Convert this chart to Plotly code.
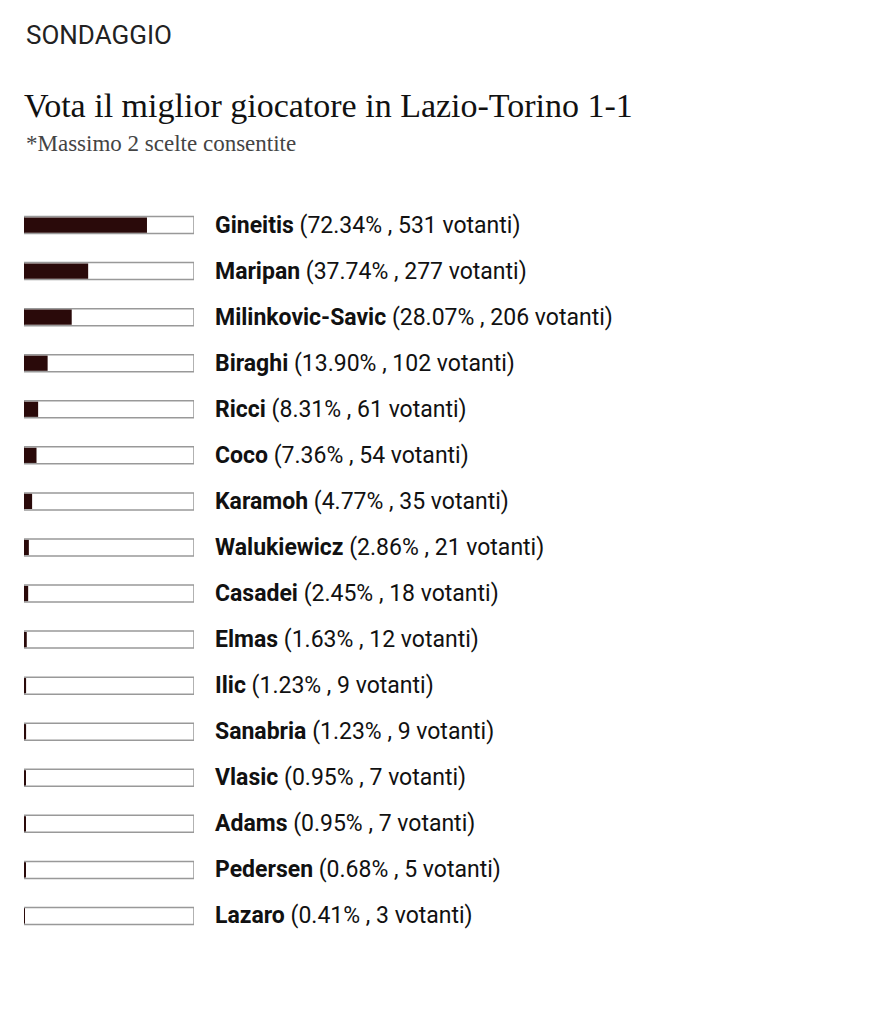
import plotly.graph_objects as go

names = ["Gineitis","Maripan","Milinkovic-Savic","Biraghi","Ricci","Coco","Karamoh","Walukiewicz",
         "Casadei","Elmas","Ilic","Sanabria","Vlasic","Adams","Pedersen","Lazaro"]
pcts = [72.34,37.74,28.07,13.90,8.31,7.36,4.77,2.86,2.45,1.63,1.23,1.23,0.95,0.95,0.68,0.41]
votes = [531,277,206,102,61,54,35,21,18,12,9,9,7,7,5,3]

W, H = 889, 1024
O = 8  # page body margin offset
fig = go.Figure()
fig.add_bar(x=[100]*len(names), y=names, orientation="h", width=0.37,
            marker=dict(color="white", line=dict(color="#999999", width=1.5)), hoverinfo="skip")
fig.add_bar(x=pcts, y=names, orientation="h", width=0.33,
            marker=dict(color="#2a0a0a", line=dict(width=0)))
for n, p, v in zip(names, pcts, votes):
    fig.add_annotation(x=(213-O)/W, xref="paper", y=n, yref="y", xanchor="left", showarrow=False,
                       text=f"<b>{n}</b> ({p:.2f}% , {v} votanti)",
                       font=dict(family="Roboto", size=23, color="#111111"))
fig.add_annotation(x=(24-O)/W, y=1-(35-O)/H, xref="paper", yref="paper", xanchor="left", yanchor="middle",
                   showarrow=False, text="SONDAGGIO", font=dict(family="Roboto", size=26, color="#222"))
fig.add_annotation(x=(22-O)/W, y=1-(105-O)/H, xref="paper", yref="paper", xanchor="left", yanchor="middle",
                   showarrow=False, text="Vota il miglior giocatore in Lazio-Torino 1-1",
                   font=dict(family="Liberation Serif", size=34, color="#111"))
fig.add_annotation(x=(24-O)/W, y=1-(143-O)/H, xref="paper", yref="paper", xanchor="left", yanchor="middle",
                   showarrow=False, text="*Massimo 2 scelte consentite",
                   font=dict(family="Liberation Serif", size=23, color="#444"))
fig.update_layout(width=W, height=H, margin=dict(l=0, r=0, t=0, b=0), barmode="overlay",
                  showlegend=False, plot_bgcolor="white", paper_bgcolor="white",
                  xaxis=dict(domain=[(24-O)/W, (194-O)/W], range=[0, 100], visible=False, fixedrange=True),
                  yaxis=dict(domain=[1-(939-O)/H, 1-(202-O)/H], range=[len(names)-0.5, -0.5],
                             visible=False, fixedrange=True))
fig.write_html("out.html")
